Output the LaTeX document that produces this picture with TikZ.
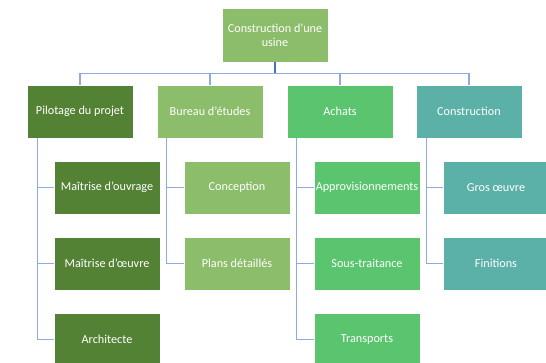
\documentclass[tikz,border=0pt]{standalone}
\usepackage{fontspec}
\setmainfont{Carlito}
\usetikzlibrary{positioning}
\definecolor{vertfonce}{HTML}{548235}
\definecolor{vertclair}{HTML}{8BBD6A}
\definecolor{vertvif}{HTML}{5BC46F}
\definecolor{turquoise}{HTML}{5BB1A8}
\definecolor{lienclair}{HTML}{8FAADC}
\definecolor{lienfonce}{HTML}{4472C4}
\begin{document}
\begin{tikzpicture}[x=1pt,y=1pt,node distance=76.5,on grid,
    box/.style={draw=white,line width=0.6pt,text=white,minimum width=106,minimum height=53,
        align=center,font=\fontsize{12.2}{14.5}\selectfont,inner sep=1pt},
    link/.style={draw=lienclair,line width=1.4pt}]
        \useasboundingbox (0,0) rectangle (546,-363);
        \node[box,fill=vertclair,minimum height=54] (usine) at (275,-35) {Construction d’une\\usine};
        \node[box,fill=vertclair] (bur) [below left=76.5 and 65 of usine] {Bureau d’études};
        \node[box,fill=vertfonce] (pil) [left=130 of bur] {Pilotage du projet};
        \node[box,fill=vertvif] (ach) [below right=76.5 and 65 of usine] {Achats};
        \node[box,fill=turquoise] (con) [right=129 of ach] {Construction};

        % sous-taches
        \node[box,fill=vertfonce] (pil1) [below right=76 and 27 of pil] {Maîtrise d’ouvrage};
        \node[box,fill=vertfonce] (pil2) [below=76 of pil1] {Maîtrise d’œuvre};
        \node[box,fill=vertfonce] (pil3) [below=76 of pil2] {Architecte};
        \node[box,fill=vertclair] (bur1) [below right=76 and 27 of bur] {Conception};
        \node[box,fill=vertclair] (bur2) [below=76 of bur1] {Plans détaillés};
        \node[box,fill=vertvif] (ach1) [below right=76 and 27 of ach] {Approvisionnements};
        \node[box,fill=vertvif] (ach2) [below=76 of ach1] {Sous-traitance};
        \node[box,fill=vertvif] (ach3) [below=76 of ach2] {Transports};
        \node[box,fill=turquoise] (con1) [below right=76 and 27 of con] {Gros œuvre};
        \node[box,fill=turquoise] (con2) [below=76 of con1] {Finitions};

        \coordinate (bar) at ([yshift=-11]usine.south);
        \path[link] (pil.north) |- (bar) -| (con.north)
            (bur.north) -- (bur.north |- bar)
            (ach.north) -- (ach.north |- bar);
        \draw[link,draw=lienfonce] (usine.south) -- (bar);

        \path[link] (pil.south west) ++(11,0) |- (pil1.west)
            (pil.south west) ++(11,0) |- (pil2.west)
            (pil.south west) ++(11,0) |- (pil3.west)
            (bur.south west) ++(10,0) |- (bur1.west)
            (bur.south west) ++(10,0) |- (bur2.west)
            (ach.south west) ++(10,0) |- (ach1.west)
            (ach.south west) ++(10,0) |- (ach2.west)
            (ach.south west) ++(10,0) |- (ach3.west)
            (con.south west) ++(11,0) |- (con1.west)
            (con.south west) ++(11,0) |- (con2.west);
\end{tikzpicture}
\end{document}
